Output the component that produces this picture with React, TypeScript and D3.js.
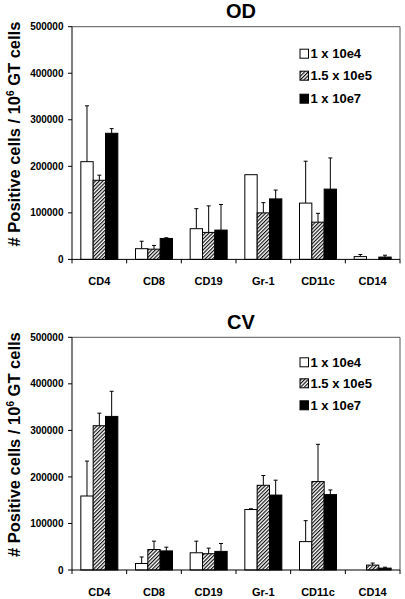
import React from "react";
import * as d3 from "d3";

const categories = ["CD4", "CD8", "CD19", "Gr-1", "CD11c", "CD14"];
const seriesNames = ["1 x 10e4", "1.5 x 10e5", "1 x 10e7"];
const yTicks = [0, 100000, 200000, 300000, 400000, 500000];

// OD panel
const odLow = [210000, 23000, 66000, 182000, 121000, 6000];
const odLowErr = [120000, 16000, 43000, 0, 90000, 4500];
const odMid = [170000, 22000, 58000, 100000, 80000, 0];
const odMidErr = [11000, 8000, 57000, 22000, 19000, 0];
const odHigh = [271000, 45000, 63000, 130000, 151000, 5000];
const odHighErr = [10000, 1500, 55000, 19000, 67000, 4000];

// CV panel
const cvLow = [159000, 14000, 37000, 130000, 61000, 0];
const cvLowErr = [75000, 14000, 25000, 1500, 45000, 0];
const cvMid = [310000, 44000, 35000, 182000, 190000, 10500];
const cvMidErr = [27000, 18000, 12000, 21000, 80000, 4500];
const cvHigh = [330000, 41000, 40000, 161000, 162000, 4000];
const cvHighErr = [54000, 8000, 17000, 32000, 10000, 2000];

const FONT = "'Liberation Sans', Arial, Helvetica, sans-serif";

type PanelProps = {
  title: string;
  top: number;
  values: number[][];
  errors: number[][];
  legendRows: number[];
};

const LEFT = 72;
const RIGHT = 400;
const PLOT_H = 232.7;

function fillFor(i: number) {
  if (i === 0) return "#ffffff";
  if (i === 1) return "url(#hatch)";
  return "#000000";
}

function Panel({ title, top, values, errors, legendRows }: PanelProps) {
  const bottom = top + PLOT_H;
  const y = d3.scaleLinear().domain([0, 500000]).range([bottom, top]);
  const x0 = d3
    .scaleBand<string>()
    .domain(categories)
    .range([LEFT, RIGHT])
    .paddingInner(0.323)
    .paddingOuter(0.1615);
  const x1 = d3
    .scaleBand<string>()
    .domain(seriesNames)
    .range([0, x0.bandwidth()]);
  const step = x0.step();
  const boundaries = d3.range(categories.length + 1).map((i) => LEFT + i * step);

  return (
    <g>
      <text
        x={241}
        y={top - 8.5}
        textAnchor="middle"
        fontFamily={FONT}
        fontWeight="bold"
        fontSize={20}
      >
        {title}
      </text>
      {/* frame top & right */}
      <line x1={LEFT} x2={RIGHT} y1={top} y2={top} stroke="#555" strokeWidth={1} />
      <line x1={RIGHT} x2={RIGHT} y1={top} y2={bottom} stroke="#555" strokeWidth={1} />
      {/* bars */}
      {values.map((vals, si) =>
        vals.map((v, ci) => {
          if (v <= 0) return null;
          const bx = (x0(categories[ci]) as number) + (x1(seriesNames[si]) as number);
          const bw = x1.bandwidth();
          const yt = y(v);
          const err = errors[si][ci];
          const cx = bx + bw / 2;
          return (
            <g key={`${si}-${ci}`}>
              {err > 0 && (
                <g stroke="#000" strokeWidth={1}>
                  <line x1={cx} x2={cx} y1={yt} y2={y(v + err)} />
                  <line x1={cx - 2} x2={cx + 2} y1={y(v + err)} y2={y(v + err)} />
                </g>
              )}
              <rect
                x={bx}
                y={yt}
                width={bw}
                height={bottom - yt}
                fill={fillFor(si)}
                stroke="#000"
                strokeWidth={1}
              />
            </g>
          );
        })
      )}
      {/* y axis */}
      <line x1={LEFT} x2={LEFT} y1={top} y2={bottom} stroke="#000" strokeWidth={1} />
      {yTicks.map((t) => (
        <g key={t}>
          <line x1={LEFT - 4} x2={LEFT} y1={y(t)} y2={y(t)} stroke="#000" strokeWidth={1} />
          <text
            x={LEFT - 8.5}
            y={y(t)}
            dy="0.36em"
            textAnchor="end"
            fontFamily={FONT}
            fontWeight="bold"
            fontSize={10}
          >
            {String(t)}
          </text>
        </g>
      ))}
      {/* x axis */}
      <line x1={LEFT} x2={RIGHT} y1={bottom} y2={bottom} stroke="#000" strokeWidth={1} />
      {boundaries.map((b, i) => (
        <line key={i} x1={b} x2={b} y1={bottom} y2={bottom + 4} stroke="#000" strokeWidth={1} />
      ))}
      {categories.map((c) => (
        <text
          key={c}
          x={(x0(c) as number) + x0.bandwidth() / 2}
          y={bottom + 25.5}
          textAnchor="middle"
          fontFamily={FONT}
          fontWeight="bold"
          fontSize={11}
        >
          {c}
        </text>
      ))}
      {/* y label */}
      <text
        transform={`translate(20,${(top + bottom) / 2 - 9}) rotate(-90)`}
        textAnchor="middle"
        fontFamily={FONT}
        fontWeight="bold"
        fontSize={16.5}
      >
        # Positive cells / 10
        <tspan fontSize={10} dy={-6}>
          6
        </tspan>
        <tspan dy={6}> GT cells</tspan>
      </text>
      {/* legend */}
      {seriesNames.map((s, i) => (
        <g key={s} transform={`translate(300,${top + legendRows[i]})`}>
          <rect x={0} y={-4.5} width={8.5} height={9} fill={fillFor(i)} stroke="#000" strokeWidth={1} />
          <text
            x={10.5}
            y={0}
            dy="0.36em"
            fontFamily={FONT}
            fontWeight="bold"
            fontSize={13}
          >
            {s}
          </text>
        </g>
      ))}
    </g>
  );
}

export default function App() {
  return (
    <svg
      width={405}
      height={599}
      style={{ position: "absolute", left: 0, top: 0, background: "#fff" }}
    >
      <defs>
        <pattern
          id="hatch"
          patternUnits="userSpaceOnUse"
          width={2.6}
          height={2.6}
          patternTransform="rotate(45)"
        >
          <rect width={2.6} height={2.6} fill="#fff" />
          <line x1={0.6} x2={0.6} y1={0} y2={2.6} stroke="#000" strokeWidth={1.1} />
        </pattern>
      </defs>
      <rect width={405} height={599} fill="#fff" />
      <Panel
        title="OD"
        top={26.7}
        values={[odLow, odMid, odHigh]}
        errors={[odLowErr, odMidErr, odHighErr]}
        legendRows={[27, 49, 72]}
      />
      <Panel
        title="CV"
        top={337.3}
        values={[cvLow, cvMid, cvHigh]}
        errors={[cvLowErr, cvMidErr, cvHighErr]}
        legendRows={[25, 46, 68]}
      />
    </svg>
  );
}
